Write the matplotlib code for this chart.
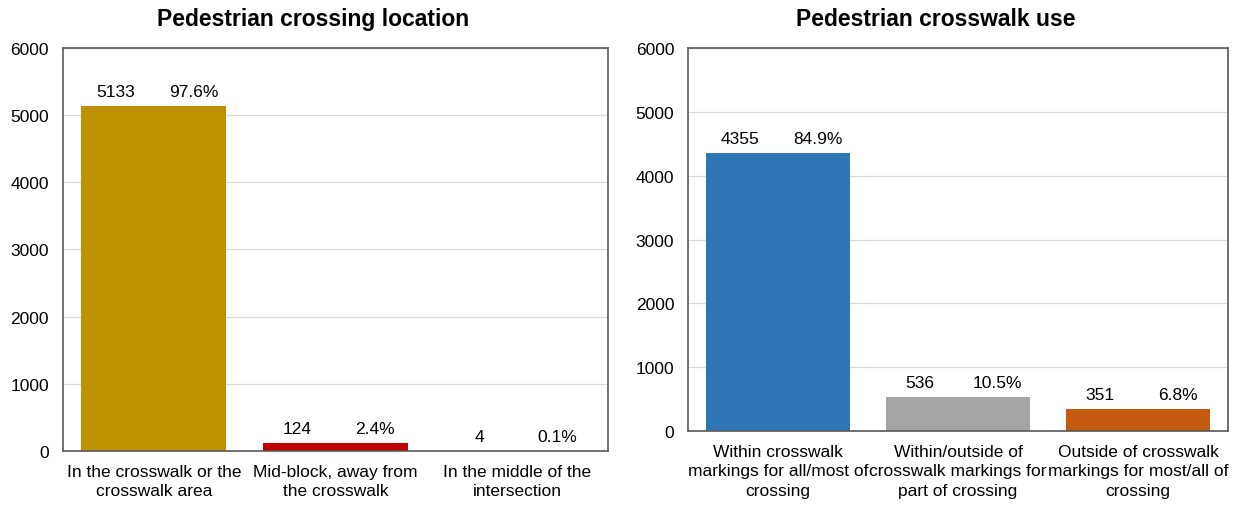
import matplotlib.pyplot as plt
import numpy as np

# data
loc_labels = ['In the crosswalk or the\ncrosswalk area',
              'Mid-block, away from\nthe crosswalk',
              'In the middle of the\nintersection']
loc_counts = [5133, 124, 4]
loc_pcts = ['97.6%', '2.4%', '0.1%']
loc_colors = ['#BF9000', '#C00000', '#7F7F7F']

use_labels = ['Within crosswalk\nmarkings for all/most of\ncrossing',
              'Within/outside of\ncrosswalk markings for\npart of crossing',
              'Outside of crosswalk\nmarkings for most/all of\ncrossing']
use_counts = [4355, 536, 351]
use_pcts = ['84.9%', '10.5%', '6.8%']
use_colors = ['#2E75B6', '#A5A5A5', '#C55A11']

plt.rcParams['font.family'] = ['Liberation Sans', 'DejaVu Sans']
FS = 12.5

fig = plt.figure(figsize=(12.42, 5.06), dpi=100)
ax1 = fig.add_axes([0.0507, 0.1067, 0.4388, 0.7965])
ax2 = fig.add_axes([0.554, 0.1462, 0.4348, 0.757])


def draw(ax, title, labels, counts, pcts, colors):
    x = np.arange(len(counts))
    ax.bar(x, counts, width=0.8, color=colors, zorder=2)
    for xi, c, p in zip(x, counts, pcts):
        ax.annotate(str(c), (xi - 0.21, c), xytext=(0, 5), textcoords='offset points',
                    ha='center', va='bottom', fontsize=FS)
        ax.annotate(p, (xi + 0.22, c), xytext=(0, 5), textcoords='offset points',
                    ha='center', va='bottom', fontsize=FS)
    ax.set_xlim(-0.5, len(counts) - 0.5)
    ax.set_ylim(0, 6000)
    ax.set_yticks(range(0, 6001, 1000))
    ax.set_xticks(x)
    ax.set_xticklabels(labels, fontsize=FS, linespacing=1.4)
    ax.tick_params(axis='both', length=0, labelsize=FS)
    ax.tick_params(axis='y', pad=10)
    ax.tick_params(axis='x', pad=9)
    ax.grid(axis='y', color='#D9D9D9', lw=0.9, zorder=0)
    for s in ax.spines.values():
        s.set_color('#595959')
        s.set_linewidth(1.2)

    # title a little left of the panel centre
    pos = ax.get_position()
    fig.text(pos.x0 + pos.width / 2 - 0.018, 0.962, title, ha='center', va='center',
             fontsize=16.5, fontweight='bold')


draw(ax1, 'Pedestrian crossing location', loc_labels, loc_counts, loc_pcts, loc_colors)
draw(ax2, 'Pedestrian crosswalk use', use_labels, use_counts, use_pcts, use_colors)

plt.savefig('out.png', dpi=100)
